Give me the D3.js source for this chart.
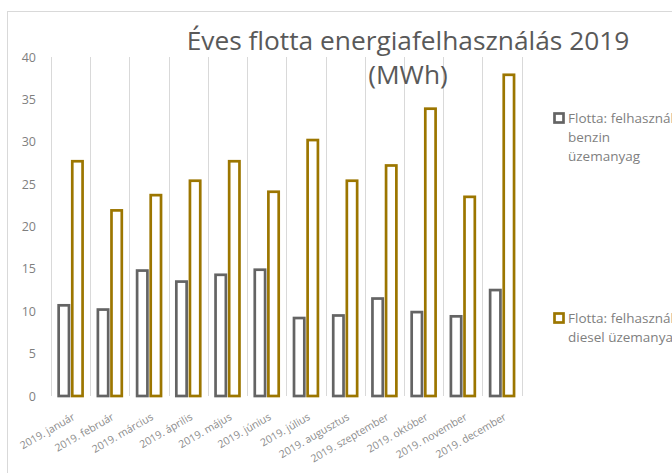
<!DOCTYPE html>
<html>
<head>
<meta charset="utf-8">
<script src="https://cdn.jsdelivr.net/npm/d3@7"></script>
<style>
  body { margin: 0; background: #fff; overflow: hidden; }
  text { font-family: "Open Sans", Lato, sans-serif; }
</style>
</head>
<body>
<div id="chart"></div>
<script>
// categories and the two series
var months = ["2019. január", "2019. február", "2019. március", "2019. április",
              "2019. május", "2019. június", "2019. július", "2019. augusztus",
              "2019. szeptember", "2019. október", "2019. november", "2019. december"];
var benzin = [10.7, 10.2, 14.8, 13.5, 14.3, 14.9, 9.2, 9.5, 11.5, 9.9, 9.4, 12.5];
var diesel = [27.7, 21.9, 23.7, 25.4, 27.7, 24.1, 30.2, 25.4, 27.2, 33.9, 23.5, 37.9];
var yTicks = [0, 5, 10, 15, 20, 25, 30, 35, 40];
var legendLines = [["Flotta: felhasznált", "benzin", "üzemanyag"],
                   ["Flotta: felhasznált", "diesel üzemanyag"]];

var width = 672, height = 473;
var colors = ["#646464", "#9c7600"];

var svg = d3.select("#chart").append("svg")
    .attr("width", width)
    .attr("height", height);

// chart frame (runs off the right and bottom of the window)
svg.append("rect")
    .attr("x", 7.5).attr("y", 11.5)
    .attr("width", 900).attr("height", 600)
    .attr("fill", "#fff")
    .attr("stroke", "#d9d9d9");

var x0 = d3.scaleBand().domain(months).range([51, 521.7]);
var x1 = d3.scaleBand().domain([0, 1]).range([0, x0.bandwidth()])
    .paddingInner(0.243).paddingOuter(0.5625);
var y = d3.scaleLinear().domain([0, 40]).range([396, 57]);

// vertical gridlines at category boundaries
var bounds = months.map(function(m) { return x0(m); }).concat([x0.range()[1]]);
svg.append("g").selectAll("line")
    .data(bounds)
    .enter().append("line")
    .attr("x1", function(d) { return Math.round(d) + 0.5; })
    .attr("x2", function(d) { return Math.round(d) + 0.5; })
    .attr("y1", y(40)).attr("y2", y(0))
    .attr("stroke", "#d9d9d9");

// y axis labels only
var yAxis = d3.axisLeft(y).tickValues(yTicks).tickSize(0).tickPadding(0);
var gy = svg.append("g")
    .attr("transform", "translate(36,0)")
    .call(yAxis);
gy.select(".domain").remove();
gy.selectAll("text")
    .attr("fill", "#7f7f7f")
    .style("font-family", "'Open Sans', sans-serif")
    .style("font-size", "12.5px");

// x axis labels, rotated
var xAxis = d3.axisBottom(x0).tickSize(0).tickPadding(0);
var gx = svg.append("g")
    .attr("transform", "translate(0,396)")
    .call(xAxis);
gx.select(".domain").remove();
gx.selectAll("text")
    .attr("fill", "#8c8c8c")
    .style("font-family", "'Open Sans', sans-serif")
    .style("font-size", "10.5px")
    .attr("text-anchor", "end")
    .attr("dy", 0)
    .attr("transform", "translate(5,23) rotate(-30)");

// bars
var rows = months.map(function(m, i) { return {month: m, vals: [benzin[i], diesel[i]]}; });
var groups = svg.append("g").selectAll("g")
    .data(rows)
    .enter().append("g")
    .attr("transform", function(d) { return "translate(" + x0(d.month) + ",0)"; });

groups.selectAll("rect")
    .data(function(d) { return d.vals.map(function(v, k) { return {k: k, v: v}; }); })
    .enter().append("rect")
    .attr("x", function(d) { return x1(d.k); })
    .attr("width", x1.bandwidth())
    .attr("y", function(d) { return y(d.v); })
    .attr("height", function(d) { return y(0) - y(d.v); })
    .attr("fill", "#fff")
    .attr("stroke", function(d) { return colors[d.k]; })
    .attr("stroke-width", 2.7);

// title, sized so the first line spans the same width as in the picture
var title = svg.append("text")
    .attr("fill", "#595959")
    .attr("text-anchor", "middle")
    .style("font-size", "24px");
var t1 = title.append("tspan").attr("x", 408).attr("y", 50).text("Éves flotta energiafelhasználás 2019");
title.append("tspan").attr("x", 408).attr("y", 84).text("(MWh)");
var fs = 24 * 443 / t1.node().getComputedTextLength();
title.style("font-size", fs + "px");

// legend
var legendY = [118, 318];
legendLines.forEach(function(lines, k) {
  var g = svg.append("g").attr("transform", "translate(0," + legendY[k] + ")");
  g.append("rect")
    .attr("x", 554.5).attr("y", -4.5)
    .attr("width", 9).attr("height", 9)
    .attr("fill", "#fff")
    .attr("stroke", colors[k])
    .attr("stroke-width", 2.7);
  var t = g.append("text")
    .attr("fill", "#7f7f7f")
    .style("font-size", "13.5px");
  lines.forEach(function(line, j) {
    t.append("tspan")
      .attr("x", 568)
      .attr("y", j * 19 + 5)
      .text(line);
  });
});
</script>
</body>
</html>
